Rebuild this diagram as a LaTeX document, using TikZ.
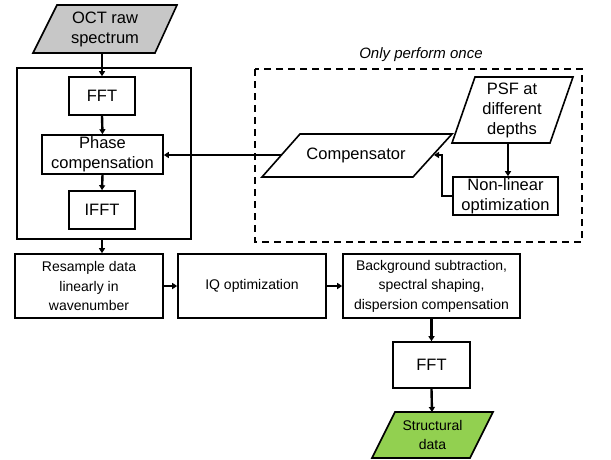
\documentclass[tikz,border=0pt]{standalone}
\usepackage{fontspec}
\setmainfont{Liberation Sans}
\usetikzlibrary{arrows.meta}
\begin{document}
\begin{tikzpicture}[x=1pt,y=-1pt,
  box/.style={draw=black,line width=1.6pt,fill=white,align=center,inner sep=0pt},
  bigtxt/.style={font=\fontsize{16.5}{20}\selectfont},
  smalltxt/.style={font=\fontsize{14}{19.5}\selectfont},
  para/.style={draw=black,line width=1.6pt},
  conn/.style={line width=2.4pt,-{Triangle[length=5pt,width=6pt]}}]
\useasboundingbox (0,0) rectangle (611,459);
% outer solid frame and dashed frame
\draw[line width=1.6pt] (17,68) rectangle (191,239);
\coordinate (outerbot) at (102,239);
\draw[line width=2.3pt,dash pattern=on 7pt off 5pt] (255,69) rectangle (582,242);
\node[font=\fontsize{15}{17}\selectfont\itshape] (once) at (421,55) {Only perform once};
% parallelograms
\draw[para,fill=black!22] (57,5) -- (177,5) -- (155,53) -- (33,53) -- cycle;
\node[bigtxt,align=center] (oct) at (105,29) {OCT raw\\spectrum};
\coordinate (octbot) at (102,53);
\draw[para,fill=white] (475,77) -- (573,77) -- (550,143) -- (452,143) -- cycle;
\node[bigtxt,align=center] (psf) at (512,110) {PSF at\\different\\depths};
\coordinate (psfbot) at (508,143);
\draw[para,fill=white] (300,134) -- (452,134) -- (413,177) -- (262,177) -- cycle;
\node[bigtxt] (comp) at (356,155.5) {Compensator};
\coordinate (compL) at (281,155);
\coordinate (compR) at (434,155);
\draw[para,fill={rgb,255:red,146;green,208;blue,80}] (395,412) -- (493,412) -- (470,458) -- (372,458) -- cycle;
\node[smalltxt,align=center] (struct) at (432.5,435) {Structural\\data};
\coordinate (structtop) at (432,412);
% rectangles
\node[box,bigtxt,minimum width=66pt,minimum height=38pt] (fft1) at (102,96) {FFT};
\node[box,bigtxt,minimum width=121pt,minimum height=39pt] (phase) at (102.5,154.5) {Phase\\compensation};
\node[box,bigtxt,minimum width=66pt,minimum height=38pt] (ifft) at (102,210) {IFFT};
\node[box,bigtxt,minimum width=105pt,minimum height=38pt] (nonlin) at (505.5,196) {Non-linear\\optimization};
\node[box,smalltxt,minimum width=148pt,minimum height=64pt] (resample) at (89,286) {Resample data\\linearly in\\wavenumber};
\node[box,smalltxt,minimum width=148pt,minimum height=64pt] (iq) at (252,286) {IQ optimization};
\node[box,smalltxt,minimum width=177pt,minimum height=64pt] (bg) at (431.5,286) {Background subtraction,\\spectral shaping,\\dispersion compensation};
\node[box,bigtxt,minimum width=77pt,minimum height=46pt] (fft2) at (431.5,365) {FFT};
% connectors
\draw[conn] (octbot) -- (fft1.north);
\draw[conn] (fft1.south) -- (phase.north);
\draw[conn] (phase.south) -- (ifft.north);
\draw[conn] (outerbot) -- (outerbot |- resample.north);
\draw[conn] (resample.east) -- (iq.west);
\draw[conn] (iq.east) -- (bg.west);
\draw[conn] (bg.south -| fft2.north) -- (fft2.north);
\draw[conn] (fft2.south) -- (structtop);
\draw[conn] (compL) -- (phase.east |- compL);
\draw[conn] (psfbot) -- (psfbot |- nonlin.north);
\draw[conn] (nonlin.west) -| (442,155) -- (compR);
\end{tikzpicture}
\end{document}
